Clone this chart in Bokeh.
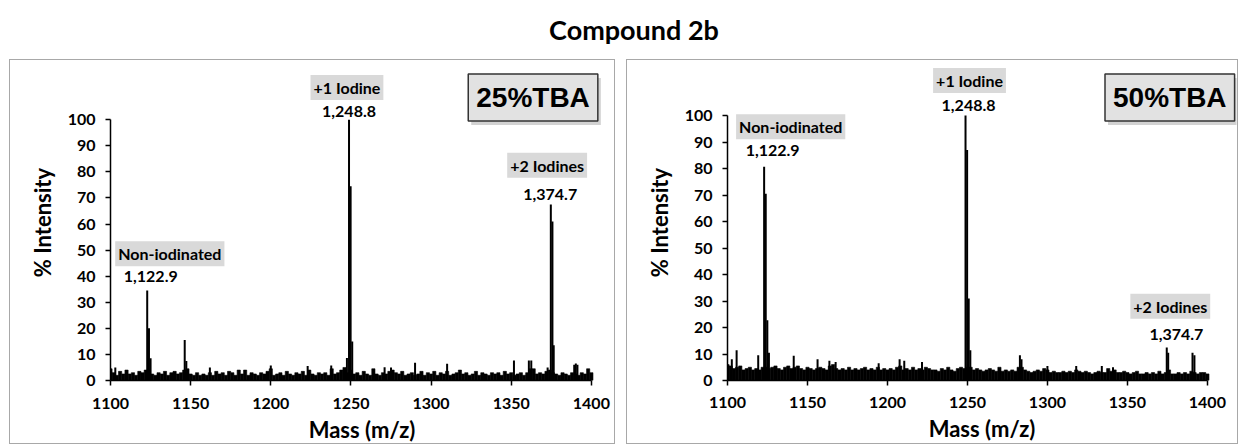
from bokeh.plotting import figure
from bokeh.models import Label, FixedTicker, Range1d, Div, ColumnDataSource, Spacer
from bokeh.layouts import column, row
from bokeh.embed import file_html
from bokeh.resources import INLINE

TITLE = "Compound 2b"
X_LABEL = "Mass (m/z)"
Y_LABEL = "% Intensity"
x_ticks = [1100, 1150, 1200, 1250, 1300, 1350, 1400]
y_ticks = [0, 10, 20, 30, 40, 50, 60, 70, 80, 90, 100]

# baseline noise sampled every 2 m/z, 1100..1400
noise_mz = list(range(1100, 1401, 2))
noise_25 = [
    4.5, 3.0, 2.0, 3.5, 2.5, 4.0, 2.5, 3.0, 2.0, 3.5,
    3.0, 4.0, 4.0, 2.5, 2.0, 3.0, 2.5, 3.5, 2.0, 3.0,
    3.5, 2.5, 3.0, 4.0, 4.5, 2.5, 2.0, 3.0, 2.0, 2.5,
    2.0, 3.0, 2.0, 3.5, 2.5, 3.0, 2.0, 3.5, 3.0, 2.0,
    4.0, 2.5, 4.0, 2.0, 3.0, 2.5, 2.0, 3.0, 2.5, 3.5,
    4.5, 2.0, 2.5, 3.0, 2.0, 3.5, 2.5, 2.0, 3.0, 2.5,
    3.5, 2.0, 4.0, 2.5, 2.0, 3.0, 2.5, 3.0, 2.0, 4.5,
    2.5, 3.0, 4.0, 5.0, 3.0, 4.0, 2.5, 3.0, 2.0, 3.5,
    2.5, 2.0, 4.5, 2.5, 2.0, 3.0, 2.5, 3.5, 4.0, 3.0,
    2.5, 3.5, 2.0, 2.5, 3.0, 2.0, 2.5, 3.5, 2.0, 3.0,
    2.5, 3.5, 2.0, 3.0, 2.5, 3.5, 2.0, 2.5, 3.0, 4.0,
    2.5, 3.0, 2.0, 2.5, 3.5, 2.0, 3.0, 2.5, 2.0, 3.0,
    2.5, 3.0, 2.0, 3.5, 2.5, 3.0, 2.0, 2.5, 3.0, 2.0,
    3.0, 4.5, 4.5, 2.5, 3.0, 2.5, 3.5, 4.0, 3.0, 2.5,
    2.0, 3.0, 2.5, 2.0, 3.0, 2.5, 2.0, 3.0, 2.5, 4.5,
    3.0,
]
noise_50 = [
    6.0, 5.5, 4.5, 5.0, 5.5, 4.0, 4.5, 5.0, 4.0, 4.5,
    4.0, 5.0, 5.0, 4.5, 5.0, 5.5, 4.5, 4.0, 5.0, 5.5,
    4.5, 5.0, 5.5, 4.5, 4.0, 5.0, 4.5, 4.0, 4.5, 5.0,
    4.5, 4.0, 5.5, 6.0, 4.5, 4.0, 4.5, 4.0, 5.0, 4.0,
    4.5, 4.0, 4.5, 5.0, 4.0, 4.5, 4.0, 5.0, 4.0, 4.5,
    4.0, 4.5, 4.0, 5.0, 5.5, 4.0, 4.5, 4.0, 5.0, 4.0,
    4.5, 4.0, 5.0, 4.5, 4.0, 4.0, 3.5, 4.5, 4.0, 5.0,
    4.0, 3.5, 4.5, 5.0, 4.5, 5.0, 5.0, 4.0, 4.5, 4.0,
    3.5, 4.0, 4.5, 4.0, 3.5, 5.0, 3.5, 4.0, 3.5, 4.0,
    3.5, 5.0, 5.0, 4.0, 3.5, 3.0, 3.5, 4.0, 3.5, 4.5,
    4.0, 3.0, 3.5, 3.0, 3.0, 3.5, 3.0, 3.5, 3.0, 4.0,
    3.5, 3.0, 3.5, 3.0, 2.5, 3.0, 3.5, 3.0, 3.0, 4.5,
    3.5, 4.0, 3.0, 3.0, 3.5, 3.0, 2.5, 3.0, 3.5, 2.5,
    2.5, 3.0, 2.5, 3.0, 2.5, 3.5, 2.5, 3.0, 4.0, 2.5,
    2.5, 3.0, 2.5, 3.0, 2.5, 3.5, 3.0, 2.5, 3.0, 3.0,
    2.5,
]

# peaks / spikes (m/z, % intensity)
peaks_25_mz = [1103.0, 1122.9, 1124.0, 1125.0, 1146.3, 1147.3, 1162.0, 1200.0,
               1223.0, 1237.7, 1247.5, 1248.8, 1249.8, 1250.8, 1271.0, 1275.0,
               1290.0, 1310.0, 1351.7, 1361.0, 1362.5, 1372.7, 1374.7, 1375.7,
               1376.5, 1389.3, 1390.3, 1391.3]
peaks_25_int = [5.0, 34.5, 20.0, 8.5, 15.5, 7.5, 5.0, 5.8,
                5.6, 5.8, 8.6, 100.0, 74.5, 15.0, 5.1, 5.0,
                6.8, 6.4, 7.7, 7.7, 7.7, 5.0, 67.5, 61.0,
                13.5, 6.0, 6.5, 6.0]
peaks_50_mz = [1102.7, 1105.7, 1119.2, 1122.9, 1123.9, 1124.9, 1125.9, 1141.4,
               1156.3, 1163.7, 1167.6, 1194.5, 1207.6, 1210.5, 1221.6, 1248.8,
               1249.8, 1250.8, 1251.8, 1282.8, 1283.8, 1300.0, 1318.0, 1334.0,
               1341.0, 1374.6, 1375.5, 1390.7, 1391.9]
peaks_50_int = [8.0, 11.4, 9.5, 80.7, 70.5, 22.7, 10.5, 9.3,
                8.0, 7.5, 7.0, 6.5, 8.0, 7.5, 7.0, 100.0,
                87.0, 31.0, 11.4, 9.5, 8.0, 5.5, 5.5, 5.5,
                5.0, 12.5, 10.5, 10.5, 9.5]

FONT = "Lato"


def make_panel(width, noise, pk_mz, pk_int, x_end, y_end, borders, standoffs,
               condition, cond_pos, annots):
    left, right, top, bottom = borders
    p = figure(width=width, height=385, output_backend="svg", toolbar_location=None,
               x_range=Range1d(1100, x_end), y_range=Range1d(0, y_end),
               min_border_left=left, min_border_right=right,
               min_border_top=top, min_border_bottom=bottom, margin=0)
    p.styles = {"border": "1px solid #a8a8a8"}
    p.outline_line_color = None
    p.grid.visible = False
    p.background_fill_color = "white"
    p.border_fill_color = "white"

    p.vbar(x=noise_mz, top=noise, bottom=0, width=2.0,
           fill_color="black", line_color="black", line_width=0.6)
    src = ColumnDataSource(dict(x=pk_mz, y=pk_int, y0=[0] * len(pk_mz)))
    p.segment(x0="x", y0="y0", x1="x", y1="y", source=src,
              line_color="black", line_width=2)

    for ax, ticks in ((p.xaxis, x_ticks), (p.yaxis, y_ticks)):
        ax.ticker = FixedTicker(ticks=ticks)
        ax.axis_line_color = "black"
        ax.axis_line_width = 1.5
        ax.major_tick_line_color = "black"
        ax.major_tick_line_width = 1.5
        ax.major_tick_out = 5
        ax.major_tick_in = 0
        ax.minor_tick_line_color = None
        ax.major_label_text_font = FONT
        ax.major_label_text_font_style = "bold"
        ax.major_label_text_font_size = "16px"
        ax.major_label_text_color = "black"
        ax.axis_label_text_font = FONT
        ax.axis_label_text_font_style = "bold"
        ax.axis_label_text_font_size = "22px"
        ax.axis_label_text_color = "black"
    p.xaxis.bounds = (x_ticks[0], x_ticks[-1])
    p.yaxis.bounds = (y_ticks[0], y_ticks[-1])
    p.xaxis.axis_label = X_LABEL
    p.yaxis.axis_label = Y_LABEL
    p.xaxis.major_label_standoff = standoffs[0]
    p.xaxis.axis_label_standoff = standoffs[1]
    p.yaxis.major_label_standoff = 10
    p.yaxis.axis_label_standoff = 9

    for text, x, y, boxed in annots:
        lab = Label(x=x, y=y, text=text, text_align="center", text_baseline="middle",
                    text_font=FONT, text_font_style="bold", text_font_size="16px",
                    text_color="black")
        if boxed:
            lab.background_fill_color = "#d9d9d9"
            lab.padding = 3
        p.add_layout(lab)

    cx, cy = cond_pos
    shadow = Label(x=cx, y=cy, x_offset=3, y_offset=-4, text=condition,
                   text_align="center", text_baseline="middle",
                   text_font="Liberation Sans", text_font_style="bold",
                   text_font_size="28px", text_color="#d2d2d2",
                   background_fill_color="#d2d2d2", padding=8)
    p.add_layout(shadow)
    box = Label(x=cx, y=cy, text=condition, text_align="center", text_baseline="middle",
                text_font="Liberation Sans", text_font_style="bold",
                text_font_size="28px", text_color="black",
                background_fill_color="#e2e2e2", border_line_color="#333333",
                border_line_width=1.5, padding=8)
    p.add_layout(box)
    return p


annots_25 = [("+1 Iodine", 1247.5, 112.4, True), ("1,248.8", 1248.8, 103.1, False),
             ("+2 Iodines", 1372.4, 82.6, True), ("1,374.7", 1374.3, 71.4, False),
             ("Non-iodinated", 1137.0, 48.6, True), ("1,122.9", 1125.1, 39.8, False)]
annots_50 = [("+1 Iodine", 1251.3, 113.3, True), ("1,248.8", 1250.7, 103.8, False),
             ("Non-iodinated", 1139.5, 95.8, True), ("1,122.9", 1128.2, 86.7, False),
             ("+2 Iodines", 1376.8, 28.0, True), ("1,374.7", 1380.6, 17.4, False)]

p1 = make_panel(606, noise_25, peaks_25_mz, peaks_25_int, 1413.8, 121.2,
                (100, 3, 4, 65), (12, 4), "25%TBA", (1363.6, 108.5), annots_25)
p2 = make_panel(612, noise_50, peaks_50_mz, peaks_50_int, 1418.2, 119.3,
                (100, 3, 4, 64), (11, 4), "50%TBA", (1376.5, 106.8), annots_50)

title = Div(text='<div style="width:1236px;height:59px;text-align:center;'
                 'font:bold 27px Lato, sans-serif;line-height:60px;color:#000;">'
                 '<span style="position:relative;left:16px">' + TITLE + '</span></div>',
            width=1236, height=59, margin=0)

panels = row(Spacer(width=9, height=10, margin=0), p1,
             Spacer(width=11, height=10, margin=0), p2, spacing=0)
layout = column(title, panels, spacing=0)
open("out.html", "w").write(file_html(layout, INLINE))
